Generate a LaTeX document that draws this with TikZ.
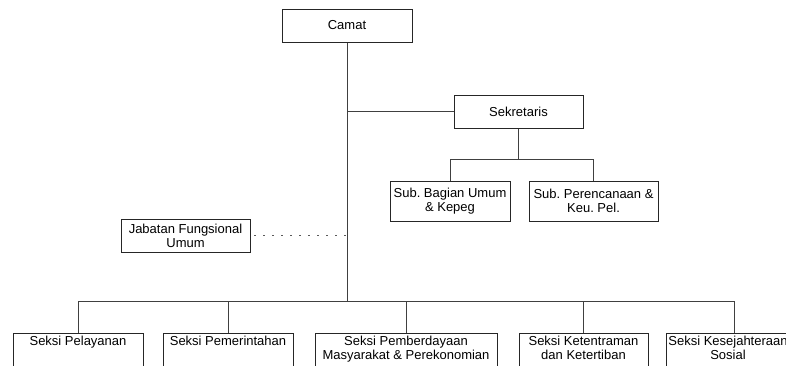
\documentclass[tikz,border=0pt]{standalone}
\usepackage{fontspec}
\setmainfont{Liberation Sans}
\frenchspacing
\begin{document}
\begin{tikzpicture}[x=1pt,y=-1pt,
  box/.style={draw=black!85,line width=1pt,fill=white,inner sep=0pt,rectangle,
    font=\fontsize{13}{14}\selectfont,align=center},
  txt/.style={inner sep=0pt,font=\fontsize{13}{14}\selectfont,align=center,anchor=base},
  conn/.style={draw=black!75,line width=1pt},
  dotline/.style={draw=black!65,line width=1.5pt,dash pattern=on 1.5pt off 7.5pt}]
\useasboundingbox (0,0) rectangle (786,365);
\clip (0,0) rectangle (786,365);
% top boxes
\node[box,minimum width=130,minimum height=33] (camat) at (347,25.5) {Camat};
\node[box,minimum width=129,minimum height=33] (sekr) at (518.5,111.5) {Sekretaris};
\node[box,minimum width=120,minimum height=40] (sub1) at (450,201) {Sub. Bagian Umum\\\& Kepeg};
\node[box,minimum width=129,minimum height=40] (sub2) at (593.5,201) {Sub. Perencanaan \&\\Keu. Pel.};
\node[box,minimum width=129,minimum height=33] (jab) at (185.5,235.5) {Jabatan Fungsional\\Umum};
% bottom boxes
\node[box,minimum width=130,minimum height=50] (p1) at (78,358) {};
\node[box,minimum width=130,minimum height=50] (p2) at (228,358) {};
\node[box,minimum width=182,minimum height=50] (p3) at (406,358) {};
\node[box,minimum width=129,minimum height=50] (p4) at (583.5,358) {};
\node[box,minimum width=136,minimum height=50] (p5) at (734,358) {};
% bus coordinates
\coordinate (busY) at (0,301);
\coordinate (subY) at (0,159);
% trunk
\draw[conn] (camat.south) -- (camat.south |- busY);
\draw[conn] (camat.south |- sekr.west) -- (sekr.west);
\draw[conn] (p1.north |- busY) -- (p5.north |- busY);
\foreach \p in {p1,p2,p3,p4,p5} \draw[conn] (\p.north |- busY) -- (\p.north);
% sekretaris branch
\draw[conn] (sekr.south) -- (sekr.south |- subY);
\draw[conn] (sub1.north |- subY) -- (sub2.north |- subY);
\draw[conn] (sub1.north |- subY) -- (sub1.north);
\draw[conn] (sub2.north |- subY) -- (sub2.north);
% dotted
\draw[dotline] ([xshift=3.5pt]jab.east) -- (jab.east -| camat.south);
% bottom texts (base = baseline of last line)
\node[txt] (t1) at (78,345) {Seksi Pelayanan};
\node[txt] (t2) at (228,345) {Seksi Pemerintahan};
\node[txt] (t3) at (406,359) {Seksi Pemberdayaan\\Masyarakat \& Perekonomian};
\node[txt] (t4) at (583.5,359) {Seksi Ketentraman\\dan Ketertiban};
\node[txt] (t5) at (728,359) {Seksi Kesejahteraan\\Sosial};
\end{tikzpicture}
\end{document}
